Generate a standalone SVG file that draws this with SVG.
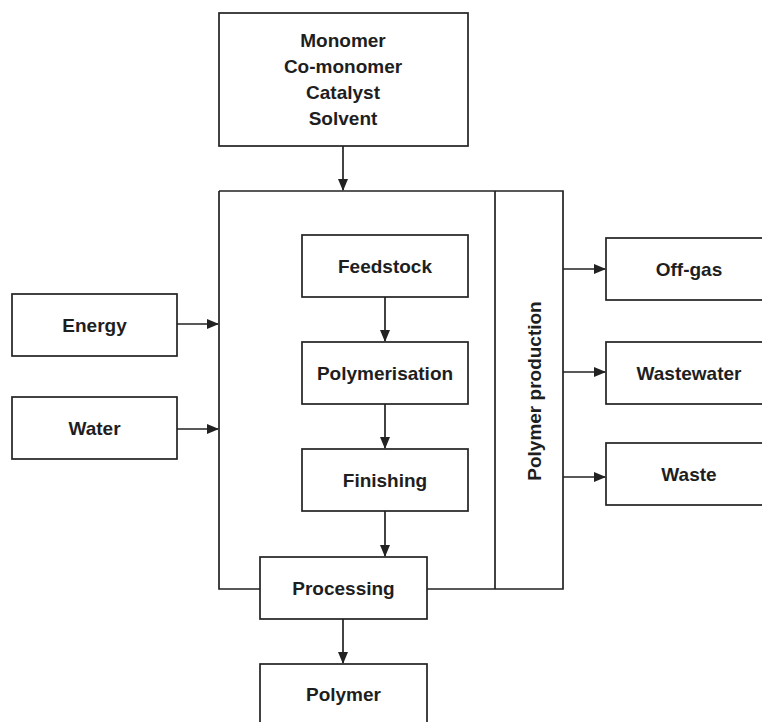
<svg xmlns="http://www.w3.org/2000/svg" width="762" height="722" viewBox="0 0 762 722">
<style>
.box{fill:#fff;stroke:#222;stroke-width:1.7}
.ln{fill:none;stroke:#222;stroke-width:1.7}
.t{font-family:"Liberation Sans",Arial,sans-serif;font-weight:bold;font-size:19px;fill:#1e1e1e;text-anchor:middle}
</style>
<defs>
<marker id="ah" markerWidth="12" markerHeight="10" refX="11" refY="5" orient="auto" markerUnits="userSpaceOnUse">
<path d="M0,0 L12,5 L0,10 Z" fill="#222"/>
</marker>
</defs>
<rect width="762" height="722" fill="#fff"/>
<g id="frame">
<path class="ln" d="M219,191 H563 V589 H427 M260,589 H219 V191 M495,191 V589"/>
<text class="t" transform="translate(541,391) rotate(-90)">Polymer production</text>
</g>
<g id="connectors">
<line class="ln" x1="343" y1="146" x2="343" y2="190" marker-end="url(#ah)"/>
<line class="ln" x1="385" y1="297" x2="385" y2="341" marker-end="url(#ah)"/>
<line class="ln" x1="385" y1="404" x2="385" y2="448" marker-end="url(#ah)"/>
<line class="ln" x1="385" y1="511" x2="385" y2="556" marker-end="url(#ah)"/>
<line class="ln" x1="343" y1="619" x2="343" y2="663" marker-end="url(#ah)"/>
<line class="ln" x1="177" y1="324" x2="218" y2="324" marker-end="url(#ah)"/>
<line class="ln" x1="177" y1="429" x2="218" y2="429" marker-end="url(#ah)"/>
<line class="ln" x1="563" y1="269" x2="605" y2="269" marker-end="url(#ah)"/>
<line class="ln" x1="563" y1="372" x2="605" y2="372" marker-end="url(#ah)"/>
<line class="ln" x1="563" y1="477" x2="605" y2="477" marker-end="url(#ah)"/>
</g>
<g id="inputs">
<rect class="box" x="219" y="13" width="249" height="133"/>
<text class="t" x="343" y="47">Monomer</text>
<text class="t" x="343" y="73">Co-monomer</text>
<text class="t" x="343" y="99">Catalyst</text>
<text class="t" x="343" y="125">Solvent</text>
</g>
<g id="feedstock">
<rect class="box" x="302" y="235" width="166" height="62"/>
<text class="t" x="385" y="273">Feedstock</text>
</g>
<g id="polymerisation">
<rect class="box" x="302" y="342" width="166" height="62"/>
<text class="t" x="385" y="380">Polymerisation</text>
</g>
<g id="finishing">
<rect class="box" x="302" y="449" width="166" height="62"/>
<text class="t" x="385" y="487">Finishing</text>
</g>
<g id="processing">
<rect class="box" x="260" y="557" width="167" height="62"/>
<text class="t" x="343.5" y="595">Processing</text>
</g>
<g id="polymer">
<rect class="box" x="260" y="664" width="167" height="64"/>
<text class="t" x="343.5" y="701">Polymer</text>
</g>
<g id="energy">
<rect class="box" x="12" y="294" width="165" height="62"/>
<text class="t" x="94.5" y="332">Energy</text>
</g>
<g id="water">
<rect class="box" x="12" y="397" width="165" height="62"/>
<text class="t" x="94.5" y="435">Water</text>
</g>
<g id="offgas">
<rect class="box" x="606" y="238" width="166" height="62"/>
<text class="t" x="689" y="276">Off-gas</text>
</g>
<g id="wastewater">
<rect class="box" x="606" y="342" width="166" height="62"/>
<text class="t" x="689" y="380">Wastewater</text>
</g>
<g id="waste">
<rect class="box" x="606" y="443" width="166" height="62"/>
<text class="t" x="689" y="481">Waste</text>
</g>
</svg>
